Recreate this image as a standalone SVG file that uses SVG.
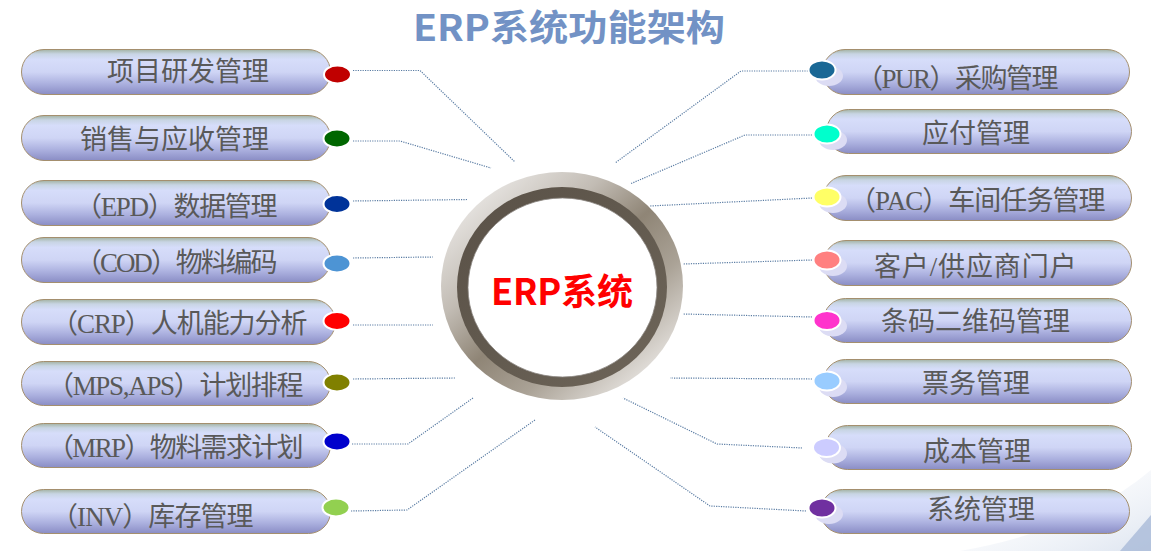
<svg xmlns="http://www.w3.org/2000/svg" width="1151" height="551" viewBox="0 0 1151 551">
<defs>
<linearGradient id="pill" x1="0" y1="0" x2="0" y2="1">
<stop offset="0" stop-color="#a3b3a4"/>
<stop offset="0.1" stop-color="#c8d5e4"/>
<stop offset="0.22" stop-color="#d6ddfa"/>
<stop offset="0.5" stop-color="#cfd5f5"/>
<stop offset="0.75" stop-color="#adb2e0"/>
<stop offset="1" stop-color="#8a8dc5"/>
</linearGradient>
<linearGradient id="ringOuter" gradientUnits="userSpaceOnUse" x1="470" y1="180" x2="655" y2="392">
<stop offset="0" stop-color="#efedeb"/>
<stop offset="0.3" stop-color="#c2bcb4"/>
<stop offset="0.5" stop-color="#8f8576"/>
<stop offset="0.7" stop-color="#aaa296"/>
<stop offset="1" stop-color="#f3f1ef"/>
</linearGradient>
<linearGradient id="ringInner" x1="0" y1="0" x2="1" y2="1">
<stop offset="0" stop-color="#5a5147"/>
<stop offset="0.5" stop-color="#625a4f"/>
<stop offset="1" stop-color="#6f665a"/>
</linearGradient>
<linearGradient id="swoosh" x1="0" y1="0" x2="1" y2="1">
<stop offset="0" stop-color="#ffffff" stop-opacity="0"/>
<stop offset="1" stop-color="#9fb4d4"/>
</linearGradient>
<style>
.pill{fill:url(#pill);stroke:#a48f6e;stroke-width:1}
.lbl{font-family:'Liberation Serif','Noto Sans CJK SC',serif;font-size:27px;fill:#595959}
.conn{fill:none;stroke:#5a7ca3;stroke-width:1.2;stroke-dasharray:1.2 1.2}
.dot{stroke:#ffffff;stroke-width:2}
.shadow{fill:#dcdcf4}
</style>
</defs>
<rect width="1151" height="551" fill="#ffffff"/>
<path d="M960 551 Q1080 530 1151 470 L1151 551 Z" fill="url(#swoosh)" opacity="0.35"/>
<path d="M1120 551 L1151 515 L1151 551 Z" fill="#a9bad8" opacity="0.8"/>

<text id="title" x="413" y="41" textLength="312" lengthAdjust="spacingAndGlyphs" font-family="'Noto Sans CJK SC',sans-serif" font-weight="bold" font-size="36" fill="#7292c5">ERP系统功能架构</text>

<g id="connectors">
<polyline class="conn" points="353,70.5 420,70.5 515,162"/>
<polyline class="conn" points="353,141 400,141 491,168"/>
<polyline class="conn" points="353,201 468,199.5"/>
<polyline class="conn" points="353,258 433,257"/>
<polyline class="conn" points="353,325 433,325"/>
<polyline class="conn" points="353,379 455,378"/>
<polyline class="conn" points="352,444 408,444 473,398"/>
<polyline class="conn" points="351,511 407,510 535,420"/>
<polyline class="conn" points="808,71 741,71 615,163"/>
<polyline class="conn" points="812,135 745,135 630,184"/>
<polyline class="conn" points="812,198 650,206"/>
<polyline class="conn" points="812,260 683,264"/>
<polyline class="conn" points="812,317 683,314"/>
<polyline class="conn" points="812,379 670,378"/>
<polyline class="conn" points="802,448 717,444 623,398"/>
<polyline class="conn" points="806,511 710,506 595,427"/>
</g>

<g id="center">
<ellipse cx="562" cy="286" rx="121" ry="114" fill="url(#ringOuter)"/>
<ellipse cx="562" cy="287" rx="105" ry="100" fill="url(#ringInner)"/>
<ellipse cx="562.5" cy="287.5" rx="94.5" ry="89.5" fill="#ffffff" stroke="#8a8580" stroke-width="0.8"/>
<text x="491" y="305" textLength="142" font-family="'Noto Sans CJK SC',sans-serif" font-weight="bold" font-size="36" fill="#ff0000">ERP系统</text>
</g>

<g id="l1"><rect class="pill" x="21.5" y="49.5" width="309" height="45" rx="22.5"/><text class="lbl" x="107" y="81">项目研发管理</text><ellipse class="dot" cx="337.5" cy="74.5" rx="13.5" ry="9" fill="#c00000"/></g>
<g id="l2"><rect class="pill" x="21.5" y="115.5" width="309" height="45" rx="22.5"/><text class="lbl" x="80" y="149">销售与应收管理</text><ellipse class="dot" cx="337" cy="138.5" rx="13.5" ry="9" fill="#006600"/></g>
<g id="l3"><rect class="pill" x="21.5" y="180.5" width="309" height="45" rx="22.5"/><text class="lbl" x="75" y="216" textLength="202.5">（EPD）数据管理</text><ellipse class="dot" cx="337" cy="204" rx="13.5" ry="9" fill="#003399"/></g>
<g id="l4"><rect class="pill" x="21.5" y="237.5" width="309" height="45" rx="22.5"/><text class="lbl" x="75" y="272" textLength="202.5">（COD）物料编码</text><ellipse class="dot" cx="337" cy="263.5" rx="13.5" ry="9" fill="#4d94d4"/></g>
<g id="l5"><rect class="pill" x="21.5" y="299.5" width="314" height="45" rx="22.5"/><text class="lbl" x="51" y="333" textLength="256.5">（CRP）人机能力分析</text><ellipse class="dot" cx="337" cy="321" rx="13.5" ry="9" fill="#ff0000"/></g>
<g id="l6"><rect class="pill" x="21.5" y="361.5" width="309" height="44" rx="22"/><text class="lbl" x="47" y="395" textLength="256.5">（MPS,APS）计划排程</text><ellipse class="dot" cx="337" cy="382.5" rx="13.5" ry="9" fill="#808000"/></g>
<g id="l7"><rect class="pill" x="21.5" y="423.5" width="309" height="44" rx="22"/><text class="lbl" x="47" y="457" textLength="256.5">（MRP）物料需求计划</text><ellipse class="dot" cx="337" cy="441.5" rx="13.5" ry="9" fill="#0000cc"/></g>
<g id="l8"><rect class="pill" x="21.5" y="489.5" width="309" height="44" rx="22"/><text class="lbl" x="51" y="526" textLength="202.5">（INV）库存管理</text><ellipse class="dot" cx="336" cy="507.5" rx="13.5" ry="9" fill="#92d050"/></g>

<g id="r1"><rect class="pill" x="822.5" y="49.5" width="307" height="45" rx="22.5"/><ellipse class="shadow" cx="829" cy="76" rx="14" ry="10"/><text class="lbl" x="856" y="88" textLength="202.5">（PUR）采购管理</text><ellipse class="dot" cx="822" cy="70" rx="13.5" ry="9.5" fill="#1a6895"/></g>
<g id="r2"><rect class="pill" x="826.5" y="109.5" width="305" height="44" rx="22"/><ellipse class="shadow" cx="833" cy="140" rx="14" ry="10"/><text class="lbl" x="922" y="143">应付管理</text><ellipse class="dot" cx="827" cy="134" rx="13.5" ry="9.5" fill="#00ffcc"/></g>
<g id="r3"><rect class="pill" x="823.5" y="175.5" width="308" height="45" rx="22.5"/><ellipse class="shadow" cx="833" cy="203" rx="14" ry="10"/><text class="lbl" x="849" y="210" textLength="256.5">（PAC）车间任务管理</text><ellipse class="dot" cx="827" cy="197" rx="13.5" ry="9.5" fill="#ffff66"/></g>
<g id="r4"><rect class="pill" x="823.5" y="240.5" width="308" height="45" rx="22.5"/><ellipse class="shadow" cx="833" cy="266" rx="14" ry="10"/><text class="lbl" x="874" y="276" textLength="202.5">客户/供应商门户</text><ellipse class="dot" cx="827" cy="260" rx="13.5" ry="9.5" fill="#ff8080"/></g>
<g id="r5"><rect class="pill" x="823.5" y="298.5" width="308" height="44" rx="22"/><ellipse class="shadow" cx="833" cy="326.5" rx="14" ry="10"/><text class="lbl" x="881" y="331">条码二维码管理</text><ellipse class="dot" cx="827" cy="320.5" rx="13.5" ry="9.5" fill="#ff33cc"/></g>
<g id="r6"><rect class="pill" x="823.5" y="359.5" width="308" height="44" rx="22"/><ellipse class="shadow" cx="833" cy="387" rx="14" ry="10"/><text class="lbl" x="922" y="393">票务管理</text><ellipse class="dot" cx="827" cy="381" rx="13.5" ry="9.5" fill="#99ccff"/></g>
<g id="r7"><rect class="pill" x="825.5" y="425.5" width="306" height="44" rx="22"/><ellipse class="shadow" cx="833" cy="453.5" rx="14" ry="10"/><text class="lbl" x="923" y="461">成本管理</text><ellipse class="dot" cx="826.5" cy="447.5" rx="13.5" ry="9.5" fill="#ccccff"/></g>
<g id="r8"><rect class="pill" x="820.5" y="489.5" width="309" height="44" rx="22"/><ellipse class="shadow" cx="829" cy="514" rx="14" ry="10"/><text class="lbl" x="927" y="519">系统管理</text><ellipse class="dot" cx="822" cy="508" rx="13.5" ry="9.5" fill="#7030a0"/></g>
</svg>
